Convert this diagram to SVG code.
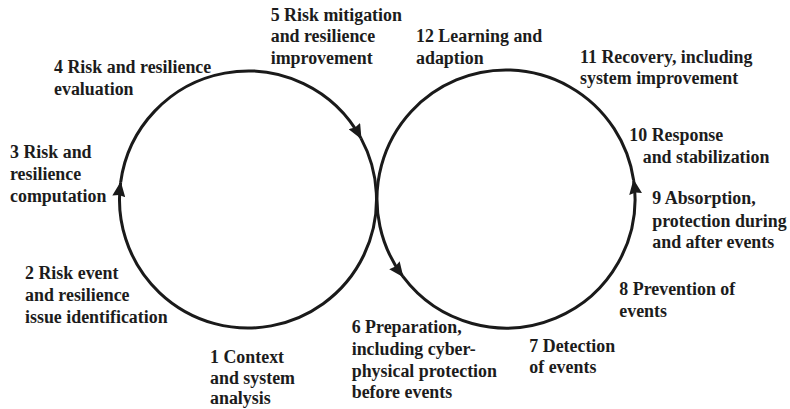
<svg xmlns="http://www.w3.org/2000/svg" width="790" height="409" viewBox="0 0 790 409">
  <style>
    text { font-family: 'Liberation Serif', 'Times New Roman', 'DejaVu Serif', serif; font-weight: 700; font-size: 17.9px; fill: #1c1c1c; }
    .loop { fill: none; stroke: #1a1a1a; stroke-width: 3; }
  </style>
  <defs>
    <marker id="arrow" markerUnits="userSpaceOnUse" viewBox="0 0 15 13" refX="14" refY="6.5" markerWidth="15" markerHeight="13" orient="auto">
      <path d="M0,0 L15,6.5 L0,13 L1.5,6.5 Z" fill="#1a1a1a"/>
    </marker>
  </defs>
  <rect width="790" height="409" fill="#fff"/>

  <!-- Two cycles: left (risk management), right (resilience) -->
  <g id="connectors">
    <path class="loop" d="M361.04,138.38 A128.5,128.5 0 1 1 120.63,182.5" marker-end="url(#arrow)"/>
    <path class="loop" d="M120.63,182.5 A128.5,128.5 0 0 1 361.04,138.38" marker-end="url(#arrow)"/>
    <path class="loop" d="M633.62,180.16 A129,129 0 1 0 402.84,276.45" marker-end="url(#arrow)"/>
    <path class="loop" d="M402.84,276.45 A129,129 0 0 0 633.62,180.16" marker-end="url(#arrow)"/>
  </g>

  <g id="step1"><text><tspan x="210" y="363">1 Context</tspan><tspan x="210" y="384">and system</tspan><tspan x="210" y="404">analysis</tspan></text></g>
  <g id="step2"><text><tspan x="25" y="279.3">2 Risk event</tspan><tspan x="25" y="301">and resilience</tspan><tspan x="25" y="322.7">issue identification</tspan></text></g>
  <g id="step3"><text><tspan x="10" y="158.3">3 Risk and</tspan><tspan x="10" y="180">resilience</tspan><tspan x="10" y="201.7">computation</tspan></text></g>
  <g id="step4"><text><tspan x="54" y="73.3">4 Risk and resilience</tspan><tspan x="54" y="94.5">evaluation</tspan></text></g>
  <g id="step5"><text><tspan x="270.7" y="20.5">5 Risk mitigation</tspan><tspan x="270.7" y="42.2">and resilience</tspan><tspan x="270.7" y="63.9">improvement</tspan></text></g>
  <g id="step6"><text><tspan x="351.7" y="333.3">6 Preparation,</tspan><tspan x="351.7" y="355">including cyber-</tspan><tspan x="351.7" y="376.7">physical protection</tspan><tspan x="351.7" y="398.3">before events</tspan></text></g>
  <g id="step7"><text><tspan x="529.3" y="351.7">7 Detection</tspan><tspan x="529.3" y="373.3">of events</tspan></text></g>
  <g id="step8"><text><tspan x="619.3" y="295">8 Prevention of</tspan><tspan x="619.3" y="316.7">events</tspan></text></g>
  <g id="step9"><text><tspan x="652.3" y="204.3">9 Absorption,</tspan><tspan x="652.3" y="226.7">protection during</tspan><tspan x="652.3" y="248.3">and after events</tspan></text></g>
  <g id="step10"><text><tspan x="629.3" y="140.7">10 Response</tspan><tspan x="642.7" y="162.7">and stabilization</tspan></text></g>
  <g id="step11"><text><tspan x="580" y="62.7">11 Recovery, including</tspan><tspan x="580" y="84.3">system improvement</tspan></text></g>
  <g id="step12"><text><tspan x="416" y="42.2">12 Learning and</tspan><tspan x="416" y="63.9">adaption</tspan></text></g>
</svg>
